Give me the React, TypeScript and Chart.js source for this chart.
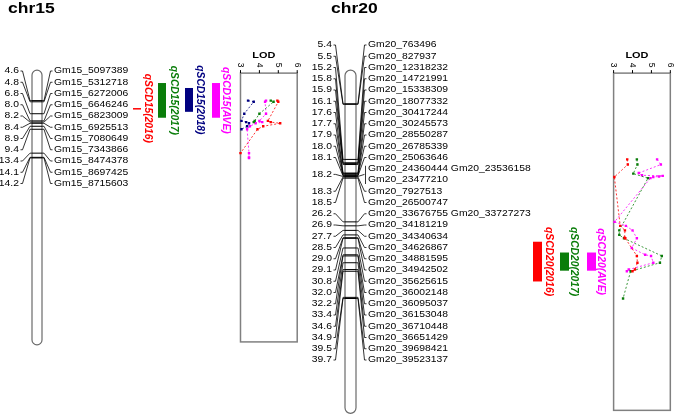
import { useEffect, useRef } from "react";
import { Chart, registerables } from "chart.js";

Chart.register(...registerables);

// ---------------- DATA ----------------
const chr15Positions = [4.6, 4.8, 6.8, 8.0, 8.2, 8.4, 8.9, 9.4, 13.4, 14.1, 14.2];
const chr15Markers = [
  ["Gm15_5097389"], ["Gm15_5312718"], ["Gm15_6272006"], ["Gm15_6646246"], ["Gm15_6823009"],
  ["Gm15_6925513"], ["Gm15_7080649"], ["Gm15_7343866"], ["Gm15_8474378"], ["Gm15_8697425"], ["Gm15_8715603"],
];
const chr15Length = 45;

const chr20Positions = [
  5.4, 5.5, 15.2, 15.8, 15.9, 16.1, 17.6, 17.7, 17.9, 18.0, 18.1, 18.2, 18.3, 18.5,
  26.2, 26.9, 27.7, 28.5, 29.0, 29.1, 30.8, 32.0, 32.2, 33.4, 34.6, 34.9, 39.5, 39.7,
];
const chr20Markers = [
  ["Gm20_763496"], ["Gm20_827937"], ["Gm20_12318232"], ["Gm20_14721991"], ["Gm20_15338309"],
  ["Gm20_18077332"], ["Gm20_30417244"], ["Gm20_30245573"], ["Gm20_28550287"], ["Gm20_26785339"],
  ["Gm20_25063646"], ["Gm20_24360444 Gm20_23536158", "Gm20_23477210"], ["Gm20_7927513"],
  ["Gm20_26500747"], ["Gm20_33676755 Gm20_33727273"], ["Gm20_34181219"], ["Gm20_34340634"],
  ["Gm20_34626867"], ["Gm20_34881595"], ["Gm20_34942502"], ["Gm20_35625615"], ["Gm20_36002148"],
  ["Gm20_36095037"], ["Gm20_36153048"], ["Gm20_36710448"], ["Gm20_36651429"], ["Gm20_39698421"],
  ["Gm20_39523137"],
];
const chr20Length = 59.4;

const lodTicks = [3, 4, 5, 6];

const qtl15Names = ["qSCD15(2016)", "qSCD15(2017)", "qSCD15(2018)", "qSCD15(AVE)"];
const qtl15Start = [5.85, 1.66, 2.49, 1.66];
const qtl15End = [5.95, 7.47, 6.48, 7.47];

const qtl20Names = ["qSCD20(2016)", "qSCD20(2017)", "qSCD20(AVE)"];
const qtl20Start = [29.7, 31.6, 31.6];
const qtl20End = [36.7, 34.8, 34.8];

// LOD profiles, chr15 (position cM, LOD)
const lod15_2016_pos = [4.6, 4.8, 8.0, 8.2, 8.4, 8.9, 9.4, 13.4];
const lod15_2016_val = [4.95, 5.0, 4.45, 4.6, 5.1, 4.2, 3.9, 3.0];
const lod15_2017_pos = [4.6, 4.8, 6.8, 8.0, 8.2];
const lod15_2017_val = [4.6, 4.75, 4.0, 3.75, 3.7];
const lod15_2018_pos = [4.6, 4.8, 6.8, 8.0, 8.2, 8.4, 8.9, 9.4];
const lod15_2018_val = [3.4, 3.7, 3.2, 3.05, 3.3, 3.45, 3.35, 3.05];
const lod15_ave_pos = [4.6, 4.8, 6.8, 8.0, 8.2, 8.4, 8.9, 9.4, 13.4, 14.1, 14.2];
const lod15_ave_val = [4.35, 4.3, 4.35, 4.0, 4.15, 3.8, 3.5, 3.35, 3.45, 3.45, 3.45];

// LOD profiles, chr20
const lod20_2016_pos = [15.2, 16.1, 18.3, 26.9, 27.7, 29.0, 29.1, 32.2, 33.4, 34.6, 34.9];
const lod20_2016_val = [3.72, 3.75, 3.04, 3.35, 3.6, 3.58, 3.62, 4.23, 4.26, 4.13, 4.0];
const lod20_2017_pos = [15.2, 16.1, 17.7, 18.5, 27.7, 28.5, 29.1, 32.2, 33.4, 34.9, 39.7];
const lod20_2017_val = [4.23, 4.26, 4.04, 4.82, 3.3, 3.3, 3.55, 5.55, 5.45, 3.9, 3.5];
const lod20_ave_pos = [15.2, 16.1, 17.6, 18.0, 18.1, 18.2, 18.3, 18.5, 26.2, 26.9, 27.7, 29.1, 30.8, 32.0, 32.2, 33.4, 34.6, 34.9];
const lod20_ave_val = [5.3, 5.5, 4.33, 4.5, 5.6, 5.4, 5.1, 4.95, 3.05, 3.65, 4.0, 4.23, 3.96, 4.67, 4.98, 5.1, 3.8, 3.7];

// ---------------- LAYOUT / STYLE ----------------
const W = 676;
const H = 418;
const RED = "#ff0000";
const GREEN = "#0a7d0a";
const NAVY = "#000080";
const MAGENTA = "#ff00ff";
const FONT = '"Liberation Sans", Arial, sans-serif';
const SX = 1.15; // horizontal stretch of plain text

const L15 = {
  title: "chr15", titleX: 8, chrLeft: 32, chrRight: 42, numRight: 19, nameLeft: 54,
  rowTop: 71, rowStep: 11.25, lodLeft: 240, lodRight: 297, top: 72, bottom: 343,
  barX: [133, 158, 185, 212], barW: 8, textX: [148, 174, 200, 226],
  colors: [RED, GREEN, NAVY, MAGENTA],
};
const L20 = {
  title: "chr20", titleX: 331, chrLeft: 345, chrRight: 356, numRight: 332, nameLeft: 368,
  rowTop: 45, rowStep: 11.25, lodLeft: 615, lodRight: 672, top: 72, bottom: 412,
  barX: [533, 560, 587], barW: 9, textX: [549, 574, 601],
  colors: [RED, GREEN, MAGENTA],
};

function xRange(v0: number, p0: number, v1: number, p1: number, total: number) {
  const k = (p1 - p0) / (v1 - v0);
  const min = v0 - p0 / k;
  return { min, max: min + total / k };
}

function mk(pos: number[], val: number[], color: string, xId: string, yId: string) {
  return {
    type: "scatter" as const,
    data: pos.map((p, i) => ({ x: val[i], y: p })),
    xAxisID: xId,
    yAxisID: yId,
    showLine: true,
    borderColor: color,
    backgroundColor: color,
    borderWidth: 0.8,
    borderDash: [2, 2],
    pointStyle: "rect" as const,
    pointRadius: 1.7,
    pointBorderWidth: 0,
    pointHoverRadius: 0,
  };
}

function text(ctx: CanvasRenderingContext2D, s: string, x: number, y: number, font: string, color: string, align: CanvasTextAlign, sx = SX) {
  ctx.save();
  ctx.font = font;
  ctx.fillStyle = color;
  ctx.textAlign = align;
  ctx.textBaseline = "middle";
  ctx.translate(x, y);
  ctx.scale(sx, 1);
  ctx.fillText(s, 0, 0);
  ctx.restore();
}

function vtext(ctx: CanvasRenderingContext2D, s: string, x: number, y: number, font: string, color: string) {
  ctx.save();
  ctx.font = font;
  ctx.fillStyle = color;
  ctx.textAlign = "center";
  ctx.textBaseline = "middle";
  ctx.translate(x, y);
  ctx.rotate(Math.PI / 2);
  ctx.fillText(s, 0, 0);
  ctx.restore();
}

function drawPanel(
  ctx: CanvasRenderingContext2D, chart: any, L: any, xId: string, yId: string,
  positions: number[], markers: string[][], length: number,
  qNames: string[], qStart: number[], qEnd: number[],
) {
  const ys = chart.scales[yId];
  const xs = chart.scales[xId];
  // title
  text(ctx, L.title, L.titleX, 9, `bold 14px ${FONT}`, "#000", "left", 1.25);

  // chromosome body
  const top = ys.getPixelForValue(0) - 3;
  const bottom = ys.getPixelForValue(length) + 3;
  const l = L.chrLeft, r = L.chrRight, rad = (r - l) / 2;
  ctx.save();
  ctx.beginPath();
  ctx.moveTo(l, top + rad);
  ctx.arc(l + rad, top + rad, rad, Math.PI, 0);
  ctx.lineTo(r, bottom - rad);
  ctx.arc(l + rad, bottom - rad, rad, 0, Math.PI);
  ctx.closePath();
  ctx.fillStyle = "#fff";
  ctx.fill();
  ctx.strokeStyle = "#6a6a6a";
  ctx.lineWidth = 1.2;
  ctx.stroke();

  // marker ticks
  ctx.strokeStyle = "#000";
  ctx.lineWidth = 1;
  positions.forEach((p) => {
    const y = ys.getPixelForValue(p);
    ctx.beginPath();
    ctx.moveTo(l, y);
    ctx.lineTo(r, y);
    ctx.stroke();
  });

  // labels + connectors
  let row = 0;
  ctx.lineWidth = 0.8;
  positions.forEach((p, i) => {
    const names = markers[i];
    const ty = ys.getPixelForValue(p);
    const rows = names.map((_, k) => L.rowTop + (row + k) * L.rowStep);
    const ly = (rows[0] + rows[rows.length - 1]) / 2;
    text(ctx, p.toFixed(1), L.numRight, ly, `9px ${FONT}`, "#000", "right");
    ctx.beginPath();
    ctx.moveTo(L.numRight + 1.5, ly);
    ctx.lineTo(L.numRight + 3.5, ly);
    ctx.lineTo(l - 2, ty);
    ctx.lineTo(l, ty);
    ctx.stroke();
    ctx.beginPath();
    ctx.moveTo(r, ty);
    ctx.lineTo(r + 2, ty);
    ctx.lineTo(L.nameLeft - 3.5, ly);
    if (rows.length === 1) ctx.lineTo(L.nameLeft - 1.5, ly);
    ctx.stroke();
    if (rows.length > 1) {
      ctx.beginPath();
      ctx.moveTo(L.nameLeft - 2.5, rows[0] - 3);
      ctx.lineTo(L.nameLeft - 2.5, rows[rows.length - 1] + 4);
      ctx.stroke();
    }
    names.forEach((n, k) => text(ctx, n, L.nameLeft, rows[k], `9px ${FONT}`, "#000", "left"));
    row += names.length;
  });

  // LOD box
  const bx0 = xs.getPixelForValue(lodTicks[0]);
  const bx1 = xs.getPixelForValue(lodTicks[lodTicks.length - 1]);
  const by0 = ys.getPixelForValue(0);
  const by1 = ys.getPixelForValue(length);
  ctx.strokeStyle = "#808080";
  ctx.lineWidth = 1.5;
  ctx.strokeRect(bx0, by0, bx1 - bx0, by1 - by0);
  ctx.lineWidth = 1;
  ctx.strokeStyle = "#000";
  lodTicks.forEach((t) => {
    const x = xs.getPixelForValue(t);
    ctx.beginPath();
    ctx.moveTo(x, by0);
    ctx.lineTo(x, by0 - 3);
    ctx.stroke();
    vtext(ctx, String(t), x, by0 - 8, `8.5px ${FONT}`, "#000");
  });
  text(ctx, "LOD", (bx0 + bx1) / 2 - 5, by0 - 18, `bold 9.5px ${FONT}`, "#000", "center");

  // QTL bars + labels
  qNames.forEach((n, i) => {
    const y0 = ys.getPixelForValue(qStart[i]);
    const y1 = ys.getPixelForValue(qEnd[i]);
    ctx.fillStyle = L.colors[i];
    ctx.fillRect(L.barX[i], y0, L.barW, Math.max(1.5, y1 - y0));
    vtext(ctx, n, L.textX[i], (y0 + y1) / 2, `italic bold 10.3px ${FONT}`, L.colors[i]);
  });
  ctx.restore();
}

const panelsPlugin = {
  id: "panels",
  beforeDatasetsDraw(chart: any) {
    const ctx = chart.ctx as CanvasRenderingContext2D;
    drawPanel(ctx, chart, L15, "x15", "y15", chr15Positions, chr15Markers, chr15Length, qtl15Names, qtl15Start, qtl15End);
    drawPanel(ctx, chart, L20, "x20", "y20", chr20Positions, chr20Markers, chr20Length, qtl20Names, qtl20Start, qtl20End);
  },
};

export default function App() {
  const ref = useRef<HTMLCanvasElement | null>(null);
  useEffect(() => {
    if (!ref.current) return;
    const x15 = xRange(3, L15.lodLeft, 6, L15.lodRight, W);
    const x20 = xRange(3, L20.lodLeft, 6, L20.lodRight, W);
    const y15 = xRange(0, L15.top, chr15Length, L15.bottom, H);
    const y20 = xRange(0, L20.top, chr20Length, L20.bottom, H);
    const hidden = { display: false, bounds: "data" as const, grid: { display: false } };
    const chart = new Chart(ref.current, {
      type: "scatter",
      data: {
        datasets: [
          mk(lod15_2016_pos, lod15_2016_val, RED, "x15", "y15"),
          mk(lod15_2017_pos, lod15_2017_val, GREEN, "x15", "y15"),
          mk(lod15_2018_pos, lod15_2018_val, NAVY, "x15", "y15"),
          mk(lod15_ave_pos, lod15_ave_val, MAGENTA, "x15", "y15"),
          mk(lod20_2016_pos, lod20_2016_val, RED, "x20", "y20"),
          mk(lod20_2017_pos, lod20_2017_val, GREEN, "x20", "y20"),
          mk(lod20_ave_pos, lod20_ave_val, MAGENTA, "x20", "y20"),
        ] as any,
      },
      options: {
        animation: false,
        responsive: true,
        maintainAspectRatio: false,
        events: [],
        layout: { padding: 0 },
        plugins: { legend: { display: false }, tooltip: { enabled: false } },
        scales: {
          x15: { ...hidden, type: "linear", axis: "x", position: "bottom", min: x15.min, max: x15.max },
          x20: { ...hidden, type: "linear", axis: "x", position: "bottom", min: x20.min, max: x20.max },
          y15: { ...hidden, type: "linear", axis: "y", position: "left", reverse: true, min: y15.min, max: y15.max },
          y20: { ...hidden, type: "linear", axis: "y", position: "left", reverse: true, min: y20.min, max: y20.max },
        } as any,
      },
      plugins: [panelsPlugin],
    });
    return () => chart.destroy();
  }, []);
  return (
    <div style={{ position: "fixed", left: 0, top: 0, width: W, height: H, background: "#fff" }}>
      <canvas ref={ref} />
    </div>
  );
}
